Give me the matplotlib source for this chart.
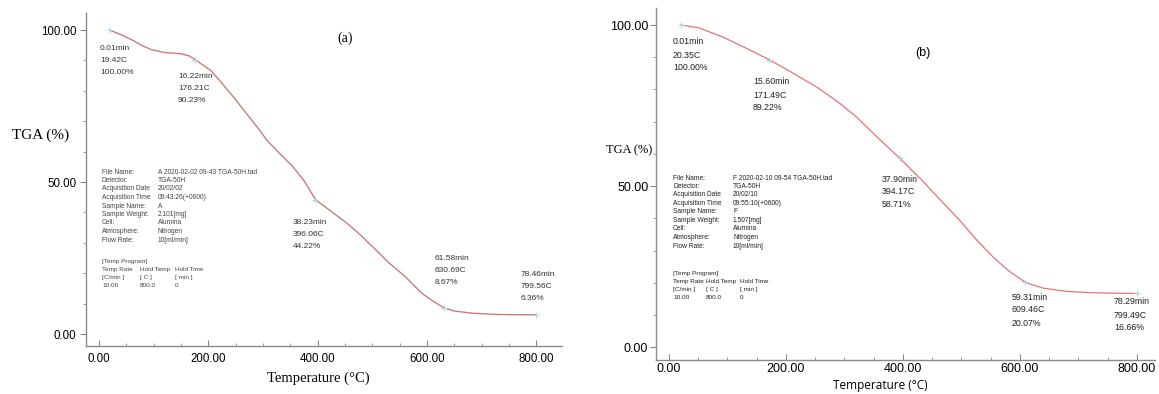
import matplotlib
matplotlib.use('Agg')
import matplotlib.pyplot as plt
from matplotlib.ticker import MultipleLocator, FormatStrFormatter

W, H = 1159, 394

# curve (a)
temp_a = [19.4, 40, 60, 80, 95, 120, 150, 165, 176.2, 190, 204, 225, 246, 270, 290,
          307, 330, 355, 375, 396.1, 420, 450, 476, 507, 530, 561, 590, 610, 630.7,
          650, 682, 720, 760, 799.6]
tga_a = [100.0, 98.5, 96.8, 94.8, 93.6, 92.6, 92.2, 91.5, 90.23, 88.5, 86.8, 82.5, 78.0,
         72.5, 68.0, 63.8, 59.5, 55.0, 50.5, 44.22, 41.0, 37.0, 33.0, 27.6, 23.5, 18.8,
         13.5, 11.0, 8.67, 7.6, 6.9, 6.5, 6.4, 6.36]

# curve (b)
temp_b = [20.35, 50, 92, 130, 171.5, 210, 253, 290, 321, 360, 394.2, 432, 465, 497,
          525, 554, 580, 609.5, 640, 680, 720, 760, 799.5]
tga_b = [100.0, 99.2, 96.3, 93.0, 89.22, 85.3, 80.7, 76.0, 71.4, 64.5, 58.71, 51.9,
         45.5, 39.4, 33.5, 28.0, 23.8, 20.07, 18.3, 17.3, 16.9, 16.75, 16.66]

# labelled points
min_a = [0.01, 16.22, 38.23, 61.58, 78.46]
pt_temp_a = [19.42, 176.21, 396.06, 630.69, 799.56]
pt_tga_a = [100.00, 90.23, 44.22, 8.67, 6.36]

min_b = [0.01, 15.60, 37.90, 59.31, 78.29]
pt_temp_b = [20.35, 171.49, 394.17, 609.46, 799.49]
pt_tga_b = [100.00, 89.22, 58.71, 20.07, 16.66]

info_keys = ["File Name:", "Detector:", "Acquisition Date", "Acquisition Time",
             "Sample Name:", "Sample Weight:", "Cell:", "Atmosphere:", "Flow Rate:"]
info_a = ["A 2020-02-02 09-43 TGA-50H.tad", "TGA-50H", "20/02/02", "09:43:26(+0600)",
          "A", "2.101[mg]", "Alumina", "Nitrogen", "10[ml/min]"]
info_b = ["F 2020-02-10 09-54 TGA-50H.tad", "TGA-50H", "20/02/10", "09:55:10(+0600)",
          "F", "1.507[mg]", "Alumina", "Nitrogen", "10[ml/min]"]
prog_cols = [["[Temp Program]", "Temp Rate", "[C/min ]", "10.00"],
             ["", "Hold Temp", "[ C ]", "800.0"],
             ["", "Hold Time", "[ min ]", "0"]]

fig = plt.figure(figsize=(W / 100, H / 100), dpi=100)


def box(l, r, t, b):
    return [l / W, 1 - b / H, (r - l) / W, (b - t) / H]


def put(x, y, s, **kw):
    kw.setdefault('va', 'center')
    fig.text(x / W, 1 - y / H, s, **kw)


def style(ax, xlim, ylim, fs, pad_y, pad_x):
    ax.set_xlim(*xlim)
    ax.set_ylim(*ylim)
    for s in ['top', 'right']:
        ax.spines[s].set_visible(False)
    for s in ['left', 'bottom']:
        ax.spines[s].set_color('#8a8a8a')
        ax.spines[s].set_linewidth(1.0)
    ax.xaxis.set_major_locator(MultipleLocator(200))
    ax.xaxis.set_minor_locator(MultipleLocator(50))
    ax.yaxis.set_major_locator(MultipleLocator(50))
    ax.yaxis.set_minor_locator(MultipleLocator(10))
    ax.xaxis.set_major_formatter(FormatStrFormatter('%.2f'))
    ax.yaxis.set_major_formatter(FormatStrFormatter('%.2f'))
    ax.tick_params(axis='y', which='both', direction='out', color='#8a8a8a', labelsize=fs, pad=pad_y)
    ax.tick_params(axis='x', which='both', direction='in', color='#8a8a8a', labelsize=fs, pad=pad_x)
    ax.tick_params(which='major', length=4)
    ax.tick_params(which='minor', length=2.5)
    for lab in ax.get_xticklabels() + ax.get_yticklabels():
        lab.set_family('Liberation Sans')


# ---- panel (a)
ax1 = fig.add_axes(box(86, 562, 13, 346))
ax1.plot(temp_a, tga_a, color='#c97b7b', lw=1.0)
ax1.plot(pt_temp_a, pt_tga_a, ls='none', marker='+', ms=4, mew=0.8, color='#a8d8e8')
style(ax1, (-23.7, 847), (-3.9, 105.6), 8.3, 3, 5)

lab_a = [(100, 48), (178, 76), (293, 222), (435, 258), (521, 274)]
for (x, y), m, t, p in zip(lab_a, min_a, pt_temp_a, pt_tga_a):
    for i, s in enumerate([f"{m:.2f}min", f"{t:.2f}C", f"{p:.2f}%"]):
        put(x, y + i * 12, s, fontsize=6, family='Liberation Sans', color='#333333')

for i, (k, v) in enumerate(zip(info_keys, info_a)):
    put(102, 172 + i * 8.5, k, fontsize=4.8, family='Liberation Sans', color='#444444')
    put(158, 172 + i * 8.5, v, fontsize=4.8, family='Liberation Sans', color='#444444')
for x, col in zip([102, 140, 175], prog_cols):
    for i, s in enumerate(col):
        put(x, 261 + i * 8.3, s, fontsize=4.6, family='Liberation Sans', color='#444444')

put(345, 38, "(a)", fontsize=10, family='Liberation Serif', ha='center')
put(41, 135, "TGA (%)", fontsize=11, family='Liberation Serif', ha='center')
put(318, 378, "Temperature (\u00b0C)", fontsize=10.5, family='Liberation Serif', ha='center')

# ---- panel (b)
ax2 = fig.add_axes(box(656, 1155, 8, 360))
ax2.plot(temp_b, tga_b, color='#e57373', lw=0.9)
ax2.plot(pt_temp_b, pt_tga_b, ls='none', marker='+', ms=4, mew=0.8, color='#a8d8e8')
style(ax2, (-22.2, 831), (-4.0, 105.3), 9, 1.5, 2)

lab_b = [(673, 42), (753, 82), (882, 179), (1012, 297), (1114, 302)]
for (x, y), m, t, p in zip(lab_b, min_b, pt_temp_b, pt_tga_b):
    for i, s in enumerate([f"{m:.2f}min", f"{t:.2f}C", f"{p:.2f}%"]):
        put(x, y + i * 13, s, fontsize=6.3, family='Liberation Sans', color='#222222')

for i, (k, v) in enumerate(zip(info_keys, info_b)):
    put(673, 178 + i * 8.5, k, fontsize=4.8, family='Liberation Sans', color='#222222')
    put(733, 178 + i * 8.5, v, fontsize=4.8, family='Liberation Sans', color='#222222')
for x, col in zip([673, 706, 740], prog_cols):
    for i, s in enumerate(col):
        put(x, 273 + i * 8.3, s, fontsize=4.6, family='Liberation Sans', color='#222222')

put(923, 53, "(b)", fontsize=9, family='Liberation Sans', ha='center')
put(629, 150, "TGA (%)", fontsize=9, family='Liberation Serif', ha='center')
put(880, 386, "Temperature (\u00b0C)", fontsize=8.5, family='Open Sans', ha='center')

fig.savefig('out.png', dpi=100)
